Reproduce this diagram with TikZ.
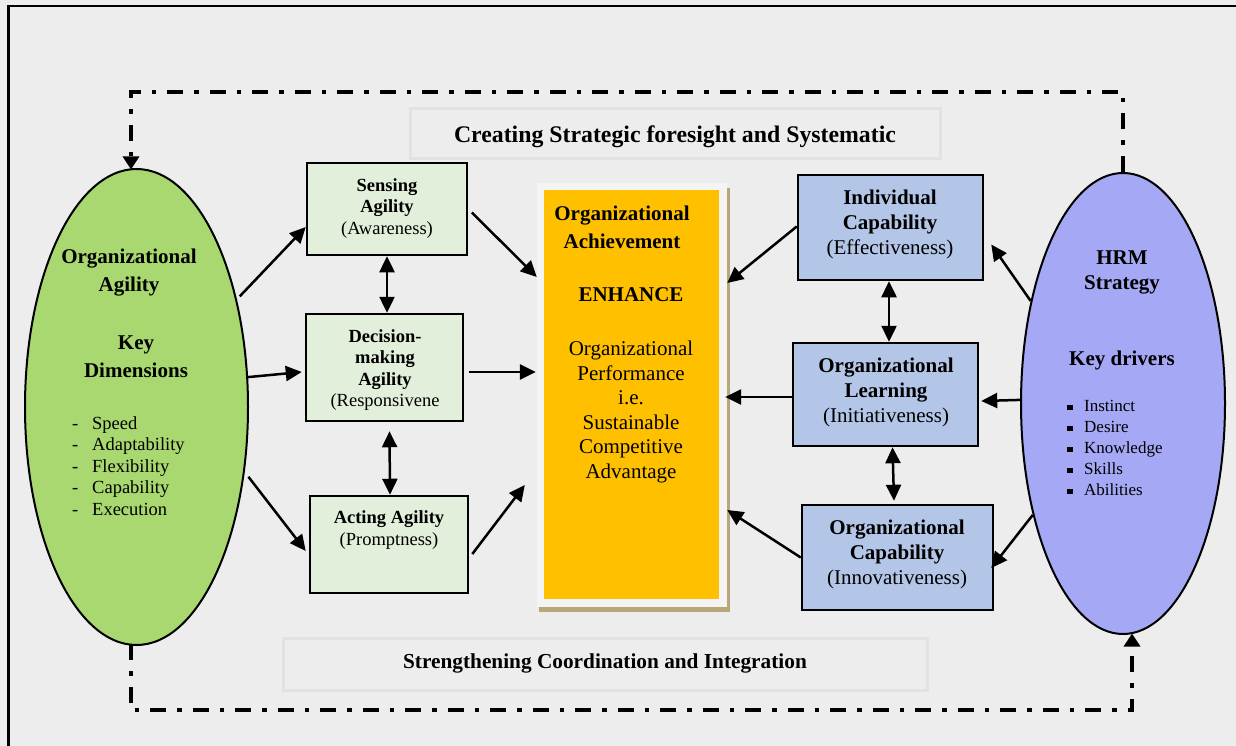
\documentclass[tikz,border=0pt]{standalone}
\usepackage{fontspec}
\setmainfont{Liberation Serif}
\usetikzlibrary{shapes.geometric,arrows.meta}
\definecolor{bgc}{RGB}{237,237,237}
\definecolor{greenc}{RGB}{168,216,111}
\definecolor{purplec}{RGB}{165,168,244}
\definecolor{gboxc}{RGB}{226,239,218}
\definecolor{bboxc}{RGB}{180,198,231}
\definecolor{yellowc}{RGB}{255,192,0}
\definecolor{framec}{RGB}{244,244,244}
\definecolor{tanc}{RGB}{184,168,120}
\definecolor{tboxc}{RGB}{226,226,226}
\tikzset{
  arr/.style={line width=2.5pt,-{Triangle[length=16pt,width=15pt]}},
  darr/.style={line width=2.5pt,{Triangle[length=16pt,width=15pt]}-{Triangle[length=16pt,width=15pt]}},
  dd/.style={line width=4pt,dash pattern=on 16pt off 11pt on 4.5pt off 11pt,-{Triangle[length=13pt,width=16pt]}},
  gbox/.style={draw,line width=2.5pt,fill=gboxc,inner sep=0pt},
  bbox/.style={draw,line width=2.5pt,fill=bboxc,inner sep=0pt},
  tbox/.style={draw=tboxc,line width=3pt,fill=bgc,inner sep=0pt},
  ell/.style={ellipse,draw,line width=2pt,inner sep=0pt},
  ts/.style={align=center,inner sep=0pt,font=\fontsize{18.5}{21.5}\selectfont},
  tm/.style={align=center,inner sep=0pt,font=\fontsize{21}{25}\selectfont},
  tl/.style={align=left,inner sep=0pt,anchor=west},
}
\begin{document}
\begin{tikzpicture}[x=1pt,y=-1pt]
\useasboundingbox (0,0) rectangle (1236,746);
\fill[bgc] (0,0) rectangle (1236,746);
\draw[line width=2.5pt] (8.5,746) -- (8.5,6) -- (1236,6);

% title boxes
\node[tbox,minimum width=530pt,minimum height=50pt] (ctopbox) at (675,134) {};
\node[inner sep=0pt,font=\fontsize{23.8}{27}\selectfont\bfseries] (ctop) at (675,136.5) {Creating Strategic foresight and Systematic};
\node[tbox,minimum width=644pt,minimum height=52pt] (cbotbox) at (605,664) {};
\node[inner sep=0pt,font=\fontsize{21.3}{25}\selectfont\bfseries] (cbot) at (605,663) {Strengthening Coordination and Integration};

% ellipses
\node[ell,fill=greenc,minimum width=223pt,minimum height=476pt] (lE) at (136.5,407) {};
\node[ell,fill=purplec,minimum width=204pt,minimum height=461pt] (rE) at (1123,403.5) {};

\node[tm,font=\fontsize{21}{28}\selectfont\bfseries] (lEt1) at (129,273) {Organizational\\Agility};
\node[tm,font=\fontsize{21}{27.5}\selectfont\bfseries] (lEt2) at (136,356.5) {Key\\Dimensions};
\node[tl,font=\fontsize{18.5}{21.5}\selectfont] (lEt3) at (72,466) {%
\makebox[20pt][l]{-}Speed\\\makebox[20pt][l]{-}Adaptability\\\makebox[20pt][l]{-}Flexibility\\\makebox[20pt][l]{-}Capability\\\makebox[20pt][l]{-}Execution};

\node[tm,font=\fontsize{21}{25}\selectfont\bfseries] (rEt1) at (1122,272.5) {HRM\\Strategy};
\node[tm,font=\fontsize{21}{25}\selectfont\bfseries] (rEt2) at (1122,360) {Key drivers};
\node[tl,font=\fontsize{17}{21}\selectfont] (rEt3) at (1067,448) {%
\makebox[17pt][l]{\rule[1.5pt]{5.5pt}{5.5pt}}Instinct\\\makebox[17pt][l]{\rule[1.5pt]{5.5pt}{5.5pt}}Desire\\\makebox[17pt][l]{\rule[1.5pt]{5.5pt}{5.5pt}}Knowledge\\\makebox[17pt][l]{\rule[1.5pt]{5.5pt}{5.5pt}}Skills\\\makebox[17pt][l]{\rule[1.5pt]{5.5pt}{5.5pt}}Abilities};

% left boxes
\node[gbox,minimum width=160pt,minimum height=92pt] (sens) at (387,209) {};
\node[ts] (senst) at (387,208.5) {\textbf{Sensing}\\\textbf{Agility}\\(Awareness)};
\node[gbox,minimum width=157pt,minimum height=107pt] (dec) at (384.5,367.5) {};
\node[ts] (dect) at (385,370) {\textbf{Decision-}\\\textbf{making}\\\textbf{Agility}\\(Responsivene};
\node[gbox,minimum width=158pt,minimum height=97pt] (act) at (389,544.5) {};
\node[ts] (actt) at (389,530) {\textbf{Acting Agility}\\(Promptness)};

% right boxes
\node[bbox,minimum width=185pt,minimum height=105pt] (ind) at (890.5,227.5) {};
\node[tm] (indt) at (890,224.5) {\textbf{Individual}\\\textbf{Capability}\\(Effectiveness)};
\node[bbox,minimum width=185pt,minimum height=103pt] (learn) at (885.5,394.5) {};
\node[tm] (learnt) at (886,392.5) {\textbf{Organizational}\\\textbf{Learning}\\(Initiativeness)};
\node[bbox,minimum width=191pt,minimum height=105pt] (ocap) at (897.5,557.5) {};
\node[tm] (ocapt) at (897,554) {\textbf{Organizational}\\\textbf{Capability}\\(Innovativeness)};

% centre
\fill[tanc] (726.5,188) rectangle (729.5,612);
\fill[tanc] (539,607) rectangle (729.5,612);
\node[fill=framec,minimum width=190pt,minimum height=424pt,inner sep=0pt] (cframe) at (632,395) {};
\node[fill=yellowc,minimum width=175pt,minimum height=409pt,inner sep=0pt] (cen) at (631.5,394.5) {};
\node[tm,font=\fontsize{21}{28}\selectfont\bfseries] (cent1) at (622,227) {Organizational\\Achievement};
\node[tm,font=\fontsize{21}{25}\selectfont\bfseries] (cent2) at (631,295) {ENHANCE};
\node[tm,font=\fontsize{21}{24.6}\selectfont] (cent3) at (631,412) {Organizational\\Performance\\i.e.\\Sustainable\\Competitive\\Advantage};

% dash-dot loop
\coordinate (tlc) at (131,92);
\coordinate (lEtop) at (131,169.5);
\coordinate (blc) at (131,710);
\coordinate (lEbot) at (131,644);
\coordinate (brc) at (1132,710);
\coordinate (rEbot) at (1132,633.5);
\draw[dd] (rE.north) -- (rE.north |- tlc) -- (tlc) -- (lEtop);
\draw[dd] (lEbot) -- (blc) -- (brc) -- (rEbot);

% arrows left
\draw[arr,shorten <=4pt] (lE.47) -- ([yshift=-18pt]sens.west);
\draw[arr] (lE.15) -- ([xshift=-3pt,yshift=-4.5pt]dec.west);
\draw[arr,shorten <=6pt] (lE.-31) -- ([xshift=-3pt,yshift=-6.5pt]act.west);
\draw[darr] (sens.south) -- (sens.south |- dec.north);
\draw[darr] ([xshift=5pt,yshift=-9pt]dec.south) -- ([xshift=1pt]act.north);
\draw[arr,shorten <=5pt] (sens.east) -- ([yshift=118pt]cframe.west);
\draw[arr,shorten <=5pt] ([yshift=-4.5pt]dec.east) -- ([xshift=-1pt,yshift=23pt]cframe.west);
\draw[arr,shorten <=5pt] ([yshift=-13.5pt]act.east) -- ([xshift=-12pt,yshift=-90pt]cframe.west);

% arrows right
\draw[arr] (rE.132) -- ([xshift=7pt,yshift=-17pt]ind.east);
\draw[arr] (rE.178) -- ([xshift=2pt,yshift=-6.5pt]learn.east);
\draw[arr] (rE.231) -- ([xshift=-3pt,yshift=-10.5pt]ocap.east);
\draw[darr] ([xshift=-1.5pt]ind.south) -- ([xshift=3.5pt]learn.north);
\draw[darr] ([xshift=7pt]learn.south) -- ([xshift=-3.5pt,yshift=3pt]ocap.north);
\draw[arr] ([yshift=1pt]ind.west) -- ([yshift=112pt]cframe.east);
\draw[arr] ([yshift=-2.5pt]learn.west) -- ([xshift=-2pt,yshift=-2pt]cframe.east);
\draw[arr] (ocap.west) -- ([yshift=-115pt]cframe.east);
\end{tikzpicture}
\end{document}
